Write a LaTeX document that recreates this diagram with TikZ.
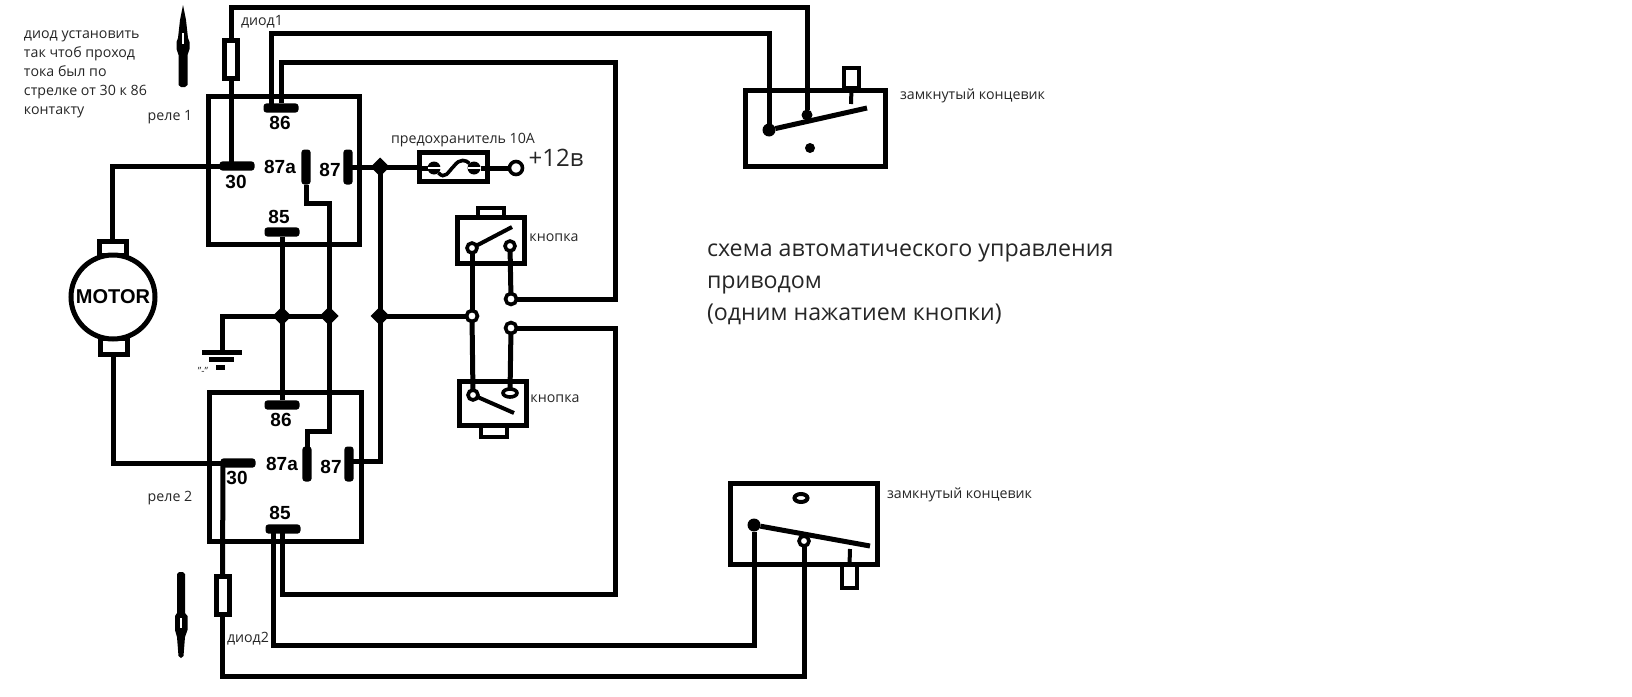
\documentclass[tikz,border=0pt]{standalone}
\usepackage{fontspec}
\setmainfont{Open Sans}
\newfontfamily\pinfont{Liberation Sans}
\usetikzlibrary{shapes.geometric}
\begin{document}
\begin{tikzpicture}[x=0.5pt,y=-0.5pt]
  \tikzstyle{every node}=[inner sep=0pt,outer sep=0pt]
  \tikzstyle{wire}=[line width=2.5pt]
  \tikzstyle{frame}=[draw,line width=2.5pt,rectangle]
  \tikzstyle{hbar}=[fill,rectangle,rounded corners=1.5pt,minimum width=17.5pt,minimum height=4.6pt]
  \tikzstyle{vbar}=[fill,rectangle,rounded corners=1.5pt,minimum width=4.6pt,minimum height=17.5pt]
  \tikzstyle{junct}=[fill,diamond,minimum size=9.5pt]
  \tikzstyle{term}=[draw,fill=white,circle,line width=1.8pt,minimum size=5.5pt]
  \tikzstyle{dot}=[fill,circle,minimum size=6.5pt]
  \tikzstyle{diode}=[frame,fill=white,minimum width=6.5pt,minimum height=19pt]
  \tikzstyle{lbl}=[text=black!85,font=\fontsize{7.1}{8}\selectfont]
  \tikzstyle{pin}=[font=\pinfont\bfseries\fontsize{9.5}{10}\selectfont]
  \tikzstyle{caption}=[text=black!85,anchor=west]
  \useasboundingbox (0,0) rectangle (1632,696);

  % arrows at the diodes
  \fill (183,5) -- (186,20) -- (188,38) -- (189.5,42) -- (189.5,49) -- (187.5,55) -- (187.5,85)
    -- (185,87) -- (181,87) -- (178.5,85) -- (178.5,55) -- (176.5,49) -- (176.5,42) -- (178,38) -- (180,20) -- cycle;
  \draw [white,line width=0.6pt] (183,33) -- (183,44);
  \fill (177,574) -- (179,572) -- (183,572) -- (185,574) -- (185,613) -- (187.5,616) -- (187.5,630)
    -- (185,637) -- (183.5,656) -- (181,658) -- (178.5,656) -- (177,637) -- (175,630) -- (175,616) -- (177,613) -- cycle;
  \draw [white,line width=0.6pt] (181,618) -- (181,628);

  % relay 1
  \node (rel1) [frame,minimum width=75.5pt,minimum height=74pt] at (283.5,170) {};
  \node (c86a) [hbar] at (281,108) {};
  \node (c30a) [hbar] at (237,166) {};
  \node (c85a) [hbar] at (282,232) {};
  \node (v87aa) [vbar] at (306,167) {};
  \node (v87a) [vbar] at (348,167) {};
  \node (l86a) [pin] at (280,123) {86};
  \node (l30a) [pin] at (236,182) {30};
  \node (l87aa) [pin] at (280,167) {87a};
  \node (l87a) [pin] at (330,170) {87};
  \node (l85a) [pin] at (279,217) {85};
  \node (d1) [diode] at (231,59) {};
  \node (tr1) [lbl] at (170,117) {реле 1};
  \node (td1) [lbl] at (262,22) {диод1};

  % relay 2
  \node (rel2) [frame,minimum width=76pt,minimum height=74.5pt] at (285,466.5) {};
  \node (c86b) [hbar] at (282,405) {};
  \node (c30b) [hbar] at (238,463) {};
  \node (c85b) [hbar] at (283,529) {};
  \node (v87ab) [vbar] at (307,464) {};
  \node (v87b) [vbar] at (349,464) {};
  \node (l86b) [pin] at (281,420) {86};
  \node (l30b) [pin] at (237,478) {30};
  \node (l87ab) [pin] at (282,464) {87a};
  \node (l87b) [pin] at (331,467) {87};
  \node (l85b) [pin] at (280,513) {85};
  \node (d2) [diode] at (222.5,595) {};
  \node (tr2) [lbl] at (170,498) {реле 2};
  \node (td2) [lbl] at (248,639) {диод2};

  % motor and ground
  \node (mtop) [frame,minimum width=13.5pt,minimum height=7pt] at (112.5,248) {};
  \node (mbot) [frame,minimum width=13.5pt,minimum height=8pt] at (113.5,346) {};
  \node (mot) [draw,fill=white,circle,line width=2.5pt,minimum size=42pt,font=\pinfont\bfseries\fontsize{10}{11}\selectfont] at (113,297) {MOTOR};
  \node (g1) [hbar,rounded corners=0pt,minimum width=20pt,minimum height=2.5pt] at (222,352) {};
  \node (g2) [hbar,rounded corners=0pt,minimum width=12.5pt,minimum height=2.5pt] at (221.5,359) {};
  \node (g3) [hbar,rounded corners=0pt,minimum width=4.5pt,minimum height=2.5pt] at (220.5,367) {};
  \node (tg) [lbl,font=\fontsize{5}{6}\selectfont] at (203,371) {"-"};

  % junctions, terminals, fuse
  \node (j1) [junct] at (282,316) {};
  \node (j2) [junct] at (329,316) {};
  \node (j3) [junct] at (380,167) {};
  \node (j4) [junct] at (380,316) {};
  \node (fuse) [frame,minimum width=34pt,minimum height=14.5pt] at (453,166.5) {};
  \node (fa) [dot] at (434,168) {};
  \node (fb) [dot] at (474,168) {};
  \node (t12) [term,minimum size=6.5pt] at (516,168) {};
  \node (tf) [lbl] at (463,140) {предохранитель 10А};
  \node (t12v) [text=black!85,font=\fontsize{12}{14}\selectfont] at (556,158) {+12в};
  \node (tm) [term] at (472,316) {};
  \node (ts1) [term] at (511,299) {};
  \node (ts2) [term] at (511,328) {};

  % push buttons
  \node (b1) [frame,minimum width=33.5pt,minimum height=23pt] at (490.5,240) {};
  \node (b1cap) [frame,line width=2pt,minimum width=13pt,minimum height=4.5pt] at (491,212.5) {};
  \node (b1a) [term,minimum size=5pt] at (472,248) {};
  \node (b1b) [term,minimum size=5pt] at (510,246) {};
  \node (tb1) [lbl] at (554,238) {кнопка};
  \node (b2) [frame,minimum width=33.5pt,minimum height=22pt] at (492.5,403) {};
  \node (b2cap) [frame,line width=2pt,minimum width=13pt,minimum height=5.5pt] at (494,431) {};
  \node (b2a) [term,minimum size=5pt] at (473,395) {};
  \node (b2b) [term,minimum size=4pt,ellipse,minimum width=7pt] at (510,393) {};
  \node (tb2) [lbl] at (555,399) {кнопка};

  % limit switch, upper
  \node (s1) [frame,minimum width=70pt,minimum height=38pt] at (815,128) {};
  \node (s1cap) [frame,line width=2pt,minimum width=7.5pt,minimum height=10pt] at (851.5,78) {};
  \node (s1a) [dot] at (769,130) {};
  \node (s1b) [dot,minimum size=5.5pt] at (807,115) {};
  \node (s1c) [dot,minimum size=5pt] at (810,148) {};
  \node (ts1t) [lbl,anchor=west] at (900,96) {замкнутый концевик};

  % limit switch, lower
  \node (s2) [frame,minimum width=73.5pt,minimum height=40.5pt] at (803.5,523.5) {};
  \node (s2cap) [frame,line width=2pt,minimum width=7.5pt,minimum height=11.5pt] at (849.5,576.5) {};
  \node (s2a) [dot] at (754,525) {};
  \node (s2b) [term,minimum size=5pt] at (804,541) {};
  \node (s2c) [ellipse,draw,line width=2pt,fill=white,minimum width=6.5pt,minimum height=4pt] at (801,498) {};
  \node (ts2t) [lbl,anchor=west] at (887,495) {замкнутый концевик};

  % corners and free ends
  \coordinate (top1) at (500,7);
  \coordinate (top2) at (500,33);
  \coordinate (top3) at (615,62);
  \coordinate (low1) at (500,645);
  \coordinate (low2) at (500,676);
  \coordinate (low3) at (615,594);
  \coordinate (p86) at (271,108);
  \coordinate (p30a) at (231,166);
  \coordinate (p30b) at (223,463);
  \coordinate (p85l) at (273,529);
  \coordinate (p85r) at (282,529);
  \coordinate (k1) at (329,203);
  \coordinate (k2) at (329,431);
  \coordinate (k3) at (380,461);
  \coordinate (p87b) at (349,461);
  \coordinate (arm1) at (512,227);
  \coordinate (arm2) at (514,413);
  \coordinate (arm3) at (867,108);
  \coordinate (arm4) at (870,546);
  \coordinate (st1) at (851,104);
  \coordinate (st2) at (850,549);

  % wiring
  \draw [wire] (d1.north) |- (top1) -| (s1b);
  \draw [wire] (p86) |- (top2) -| (s1a);
  \draw [wire] (c86a) |- (top3) |- (ts1);
  \draw [wire] (d1.south) -- (p30a);
  \draw [wire] (c30a.west) -| (mtop.north);
  \draw [wire] (mbot.south) |- (c30b.west);
  \draw [wire] (c85a) -- (j1.center) -- (c86b);
  \draw [wire] (v87aa.south) |- (k1) -- (j2.center) -- (k2) -| (v87ab.north);
  \draw [wire] (j1.center) -- (j2.center);
  \draw [wire] (j1.center) -| (g1.north);
  \draw [wire] (v87a.center) -- (j3.center);
  \draw [wire] (j3.center) -- (fuse.west |- j3);
  \draw [wire] (fuse.east |- t12) -- (t12);
  \draw [wire] (j3.center) -- (j4.center) -- (k3) -- (p87b);
  \draw [wire] (j4.center) -- (tm);
  \draw [wire] (fuse.west |- fa) -- (fa);
  \draw [wire] (fb) -- (fuse.east |- fb);
  \draw [line width=1.8pt] (fa) .. controls (445,180) and (448,172) .. (454,166) .. controls (460,158) and (466,160) .. (fb);
  \draw [wire] (b1a) -- (tm);
  \draw [wire] (b1b) -- (ts1);
  \draw [wire] (tm) -- (b2a);
  \draw [wire] (ts2) -- (b2b);
  \draw [wire] (ts2) -| (low3) -| (p85r);
  \draw [wire] (p30b) -- (d2.north);
  \draw [wire] (d2.south) |- (low2) -| (s2b);
  \draw [wire] (p85l) |- (low1) -| (s2a);
  \draw [wire,line width=2pt] (b1a) -- (arm1);
  \draw [wire,line width=2pt] (b2a) -- (arm2);
  \draw [wire] (s1a) -- (arm3);
  \draw [wire] (s2a) -- (arm4);
  \draw [wire,line width=2pt] (s1cap.south) -- (st1);
  \draw [wire,line width=2pt] (s2cap.north) -- (st2);
  \draw [white,line width=0.7pt] (fa.west) -- (fa.east);
  \draw [white,line width=0.7pt] (fb.west) -- (fb.east);

  % texts
  \node (note) [lbl,anchor=north west,align=left,font=\fontsize{7.1}{9.5}\selectfont] at (24,31) {диод установить\\так чтоб проход\\тока был по\\стрелке от 30 к 86\\контакту};
  \node (title) [caption,align=left,font=\fontsize{11.6}{16}\selectfont] at (707,284) {схема автоматического управления\\приводом\\(одним нажатием кнопки)};
\end{tikzpicture}
\end{document}
